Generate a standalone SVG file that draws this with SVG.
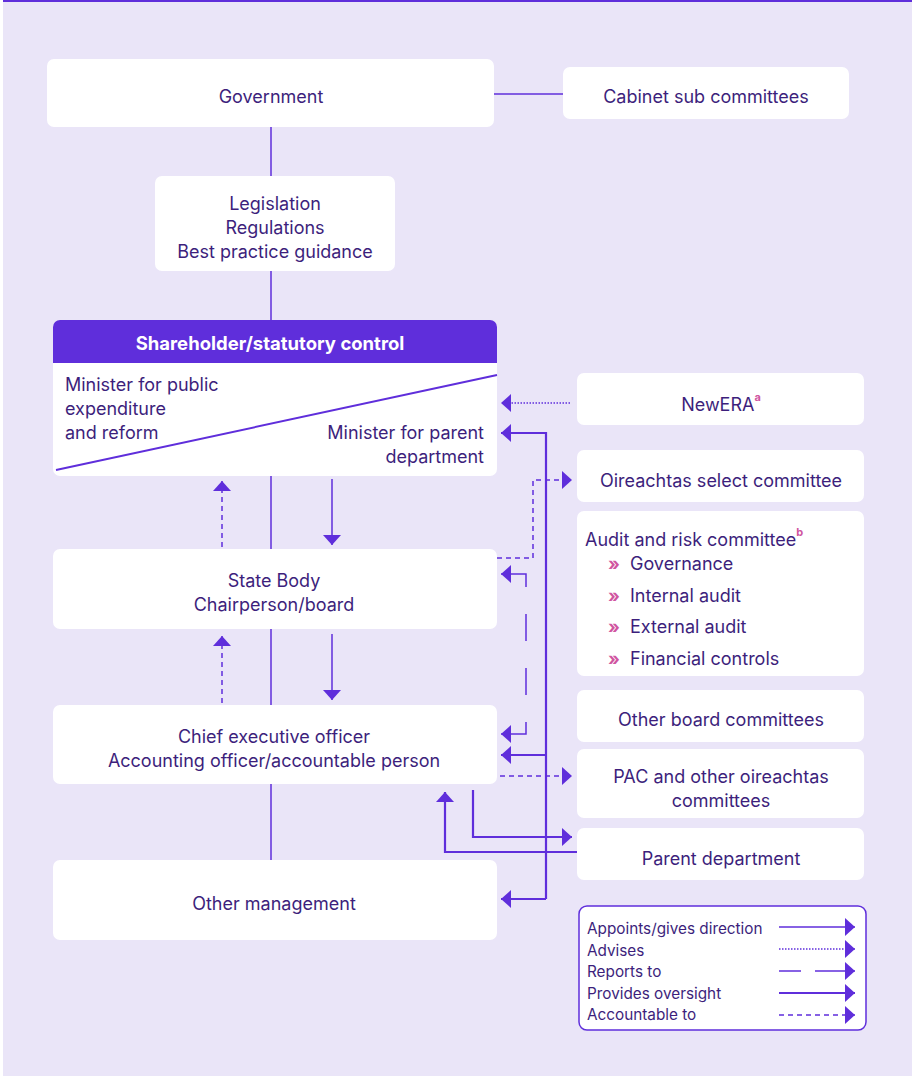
<svg xmlns="http://www.w3.org/2000/svg" width="912" height="1077" viewBox="0 0 912 1077">
<style>
.box{fill:#ffffff}
.t{font-family:Inter,"Noto Sans","Liberation Sans",sans-serif;font-size:18px;fill:#3D1F7C;dominant-baseline:central}
.c{text-anchor:middle}
.r{text-anchor:end}
.h{font-weight:bold;fill:#ffffff;font-size:18.5px}
.sup{font-size:11px;font-weight:bold;fill:#D0559F}
.bul{fill:#D0559F;font-weight:bold}
.lg{font-size:15.3px}
.thin{stroke:#5F2EDB;stroke-width:1.5;fill:none}
.ovs{stroke:#5F2EDB;stroke-width:2.2;fill:none}
.dot{stroke:#5F2EDB;stroke-width:1.5;stroke-dasharray:1.5 1.5;fill:none}
.dash{stroke:#5F2EDB;stroke-width:1.5;stroke-dasharray:5 4;fill:none}
.rep{stroke:#5F2EDB;stroke-width:1.5;stroke-dasharray:27 27;fill:none}
</style>
<defs>
<marker id="ah" markerUnits="userSpaceOnUse" markerWidth="10" markerHeight="18" refX="10" refY="9" orient="auto">
<path d="M0,0 L10,9 L0,18 Z" fill="#5F2EDB"/>
</marker>
</defs>
<rect x="0" y="0" width="912" height="1077" fill="#ffffff"/>
<rect x="3" y="0" width="909" height="1076" fill="#EAE5F8"/>
<rect x="3" y="0" width="909" height="2" fill="#5F2EDB"/>

<g id="connectors">
<line class="thin" x1="494" y1="94" x2="563" y2="94"/>
<line class="thin" x1="271" y1="127" x2="271" y2="176"/>
<line class="thin" x1="271" y1="271" x2="271" y2="320"/>
<line class="thin" x1="271" y1="476" x2="271" y2="549"/>
<line class="thin" x1="271" y1="629" x2="271" y2="705"/>
<line class="thin" x1="271" y1="784" x2="271" y2="860"/>
<line class="thin" x1="332" y1="479" x2="332" y2="545" marker-end="url(#ah)"/>
<line class="thin" x1="332" y1="634" x2="332" y2="700" marker-end="url(#ah)"/>
<line class="dash" x1="222" y1="547" x2="222" y2="481" marker-end="url(#ah)"/>
<line class="dash" x1="222" y1="703" x2="222" y2="636" marker-end="url(#ah)"/>
<line class="dot" x1="570" y1="403" x2="501" y2="403" marker-end="url(#ah)"/>
<polyline class="ovs" points="546,899 546,433 501,433" marker-end="url(#ah)"/>
<line class="ovs" x1="546" y1="755" x2="501" y2="755" marker-end="url(#ah)"/>
<line class="ovs" x1="546" y1="899" x2="501" y2="899" marker-end="url(#ah)"/>
<polyline class="dash" points="497,558 533,558 533,480 572,480" marker-end="url(#ah)"/>
<polyline class="thin" points="526,587 526,574 501,574" marker-end="url(#ah)"/>
<line class="rep" x1="526" y1="587" x2="526" y2="722" stroke-dashoffset="-27"/>
<polyline class="thin" points="526,722 526,734 501,734" marker-end="url(#ah)"/>
<line class="dash" x1="500" y1="776" x2="572" y2="776" marker-end="url(#ah)"/>
<polyline class="ovs" points="473,790 473,837 572,837" marker-end="url(#ah)"/>
<polyline class="ovs" points="577,852 445,852 445,792" marker-end="url(#ah)"/>
</g>

<g id="government">
<rect class="box" x="47" y="59" width="447" height="68" rx="7"/>
<text class="t c" x="271" y="96">Government</text>
</g>
<g id="cabinet">
<rect class="box" x="563" y="67" width="286" height="52" rx="7"/>
<text class="t c" x="706" y="96">Cabinet sub committees</text>
</g>
<g id="legislation">
<rect class="box" x="155" y="176" width="240" height="95" rx="7"/>
<text class="t c" x="275" y="203">Legislation</text>
<text class="t c" x="275" y="227">Regulations</text>
<text class="t c" x="275" y="251">Best practice guidance</text>
</g>
<g id="shareholder">
<rect class="box" x="53" y="320" width="444" height="156" rx="7"/>
<path d="M53,363 V327 a7,7 0 0 1 7,-7 H490 a7,7 0 0 1 7,7 V363 Z" fill="#5F2EDB"/>
<text class="t c h" x="270" y="343">Shareholder/statutory control</text>
<line x1="56" y1="470" x2="497" y2="375" stroke="#5F2EDB" stroke-width="2"/>
<text class="t" x="65" y="384">Minister for public</text>
<text class="t" x="65" y="408">expenditure</text>
<text class="t" x="65" y="432">and reform</text>
<text class="t r" x="484" y="432">Minister for parent</text>
<text class="t r" x="484" y="456">department</text>
</g>
<g id="newera">
<rect class="box" x="577" y="373" width="287" height="52" rx="7"/>
<text class="t c" x="721" y="404">NewERA<tspan class="sup" dy="-7">a</tspan></text>
</g>
<g id="oireachtas">
<rect class="box" x="577" y="450" width="287" height="52" rx="7"/>
<text class="t c" x="721" y="480">Oireachtas select committee</text>
</g>
<g id="audit">
<rect class="box" x="577" y="511" width="287" height="165" rx="7"/>
<text class="t" x="585" y="539">Audit and risk committee<tspan class="sup" dy="-7">b</tspan></text>
<text class="t bul" x="608" y="563">»</text>
<text class="t" x="630" y="563">Governance</text>
<text class="t bul" x="608" y="595">»</text>
<text class="t" x="630" y="595">Internal audit</text>
<text class="t bul" x="608" y="626">»</text>
<text class="t" x="630" y="626">External audit</text>
<text class="t bul" x="608" y="658">»</text>
<text class="t" x="630" y="658">Financial controls</text>
</g>
<g id="otherboard">
<rect class="box" x="577" y="690" width="287" height="52" rx="7"/>
<text class="t c" x="721" y="719">Other board committees</text>
</g>
<g id="pac">
<rect class="box" x="577" y="749" width="287" height="69" rx="7"/>
<text class="t c" x="721" y="776">PAC and other oireachtas</text>
<text class="t c" x="721" y="800">committees</text>
</g>
<g id="parentdept">
<rect class="box" x="577" y="828" width="287" height="52" rx="7"/>
<text class="t c" x="721" y="858">Parent department</text>
</g>
<g id="statebody">
<rect class="box" x="53" y="549" width="444" height="80" rx="7"/>
<text class="t c" x="274" y="580">State Body</text>
<text class="t c" x="274" y="604">Chairperson/board</text>
</g>
<g id="ceo">
<rect class="box" x="53" y="705" width="444" height="79" rx="7"/>
<text class="t c" x="274" y="736">Chief executive officer</text>
<text class="t c" x="274" y="760">Accounting officer/accountable person</text>
</g>
<g id="othermgmt">
<rect class="box" x="53" y="860" width="444" height="80" rx="7"/>
<text class="t c" x="274" y="903">Other management</text>
</g>
<g id="legend">
<rect x="579" y="906" width="287" height="124" rx="8" fill="#ffffff" stroke="#5F2EDB" stroke-width="1.5"/>
<text class="t lg" x="587" y="928">Appoints/gives direction</text>
<text class="t lg" x="587" y="950">Advises</text>
<text class="t lg" x="587" y="971">Reports to</text>
<text class="t lg" x="587" y="993">Provides oversight</text>
<text class="t lg" x="587" y="1014">Accountable to</text>
<line class="thin" x1="779" y1="927" x2="855" y2="927" marker-end="url(#ah)"/>
<line class="dot" x1="779" y1="949" x2="855" y2="949" marker-end="url(#ah)"/>
<line class="thin" x1="779" y1="971" x2="801" y2="971"/>
<line class="thin" x1="815" y1="971" x2="855" y2="971" marker-end="url(#ah)"/>
<line class="ovs" x1="779" y1="993" x2="855" y2="993" marker-end="url(#ah)"/>
<line class="dash" x1="779" y1="1015" x2="855" y2="1015" marker-end="url(#ah)"/>
</g>
</svg>
